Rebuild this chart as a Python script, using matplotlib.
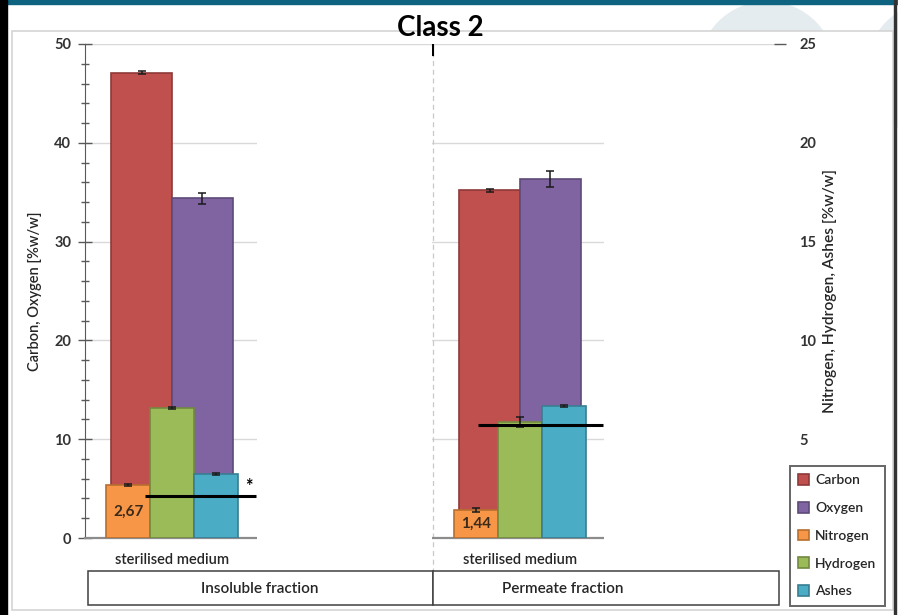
import matplotlib
matplotlib.use("Agg")
import matplotlib.pyplot as plt
from matplotlib.patches import Rectangle, Ellipse, Patch
from matplotlib.ticker import MultipleLocator
import numpy as np

plt.rcParams['font.family'] = ['Lato', 'DejaVu Sans']

# ---- data -------------------------------------------------------------
fractions = ["Insoluble fraction", "Permeate fraction"]
samples = ["sterilised medium", "sterilised medium"]

# left axis: Carbon, Oxygen [%w/w]
carbon = [47.1, 35.2]
carbon_err = [0.15, 0.15]
oxygen = [34.4, 36.3]
oxygen_err = [0.55, 0.8]

# right axis: Nitrogen, Hydrogen, Ashes [%w/w]
nitrogen = [2.67, 1.44]
nitrogen_err = [0.05, 0.1]
hydrogen = [6.58, 5.87]
hydrogen_err = [0.05, 0.25]
ashes = [3.24, 6.68]
ashes_err = [0.05, 0.05]
nitrogen_labels = ["2,67", "1,44"]

# reference levels (right axis) drawn as black lines
ref_levels = [2.13, 5.72]

series_names = ["Carbon", "Oxygen", "Nitrogen", "Hydrogen", "Ashes"]
fills = ["#C0504D", "#8064A2", "#F79646", "#9BBB59", "#4BACC6"]
edges = ["#8E3A38", "#5E4A78", "#B86E30", "#71893F", "#377E92"]

TEXT_W = "semibold"

# ---- figure -----------------------------------------------------------
W, H = 898, 615
fig = plt.figure(figsize=(W / 100, H / 100), dpi=100)
fig.patch.set_facecolor("white")


def fx(px):
    return px / W


def fy(py):
    return 1 - py / H


def frect(x0, y0, x1, y1, **kw):
    r = Rectangle((fx(x0), fy(y1)), fx(x1) - fx(x0), fy(y0) - fy(y1),
                  transform=fig.transFigure, **kw)
    fig.add_artist(r)
    return r


# slide decoration behind the chart
for cx in (767, 935):
    fig.add_artist(Ellipse((fx(cx), fy(70)), 2 * 68 / W, 2 * 68 / H,
                           transform=fig.transFigure, color="#E4ECEF",
                           zorder=-5))
frect(0, 0, W, 4, color="#0E6480", zorder=-4)
frect(12, 31, 893, 610, facecolor="white", edgecolor="#D4D4D4", lw=1.2,
      zorder=-3)
frect(0, 0, 4, H, color="black", zorder=-2)
frect(5.3, 0, 7, H, color="black", zorder=-2)
frect(894, 0, 896, H, color="#333333", zorder=-2)

# ---- axes -------------------------------------------------------------
ax = fig.add_axes([fx(85), fy(538), fx(780) - fx(85), fy(44) - fy(538)])
ax2 = ax.twinx()
for a in (ax, ax2):
    a.patch.set_visible(False)

x = np.arange(len(fractions))
w_big = 0.175
w_small = 0.126
ekw = dict(elinewidth=1.1, capthick=1.1, ecolor="#1A1A1A")

left_series = [(carbon, carbon_err, -w_big / 2), (oxygen, oxygen_err, w_big / 2)]
for i, (vals, err, off) in enumerate(left_series):
    ax.bar(x + off, vals, w_big, yerr=err, color=fills[i], edgecolor=edges[i],
           lw=1.2, capsize=3, error_kw=ekw, zorder=2)

right_series = [(nitrogen, nitrogen_err, -w_small), (hydrogen, hydrogen_err, 0.0),
                (ashes, ashes_err, w_small)]
nbars = None
for j, (vals, err, off) in enumerate(right_series):
    i = j + 2
    b = ax2.bar(x + off, vals, w_small, yerr=err, color=fills[i],
                edgecolor=edges[i], lw=1.2, capsize=3, error_kw=ekw, zorder=2)
    if j == 0:
        nbars = b

ax2.bar_label(nbars, labels=nitrogen_labels, label_type="center",
              fontsize=11, fontweight="bold", color="#3B2A1A")

# reference lines with marker
ref_start = [-0.078, -0.121]
ref_end = [0.241, 0.239]
ax2.hlines(ref_levels, x + np.array(ref_start), x + np.array(ref_end),
           color="black", lw=2.2, zorder=4)
ax2.text(x[0] + ref_end[0] - 0.02, ref_levels[0] + 0.05, "*", ha="center",
         va="bottom", fontsize=13, fontweight="bold", color="black")

# scales
ax.set_xlim(-0.25, 1.747)
ax.set_ylim(0, 50)
ax2.set_ylim(0, 25)

ax.yaxis.set_major_locator(MultipleLocator(10))
ax.yaxis.set_minor_locator(MultipleLocator(2))

ax.yaxis.grid(True, color="#D9D9D9", lw=1)
ax.set_axisbelow(True)

for s in ("top", "right"):
    ax.spines[s].set_visible(False)
for s in ("top", "left", "bottom", "right"):
    ax2.spines[s].set_visible(False)
ax.spines["left"].set_color("#595959")
ax.spines["bottom"].set_color("#8C8C8C")
ax.spines["bottom"].set_linewidth(1.6)

ax.tick_params(axis="y", which="major", direction="inout", length=10,
               width=1, color="#595959", labelsize=10.5, labelcolor="#333333",
               pad=5)
ax.tick_params(axis="y", which="minor", direction="inout", length=6,
               width=1, color="#595959")
ax2.tick_params(axis="y", direction="inout", length=8, width=1,
                color="#595959", labelsize=10.5, labelcolor="#333333", pad=10)
ax2.set_yticks([5, 10, 15, 20, 25])
for lab in ax.get_yticklabels() + ax2.get_yticklabels():
    lab.set_fontweight("bold")

ax.set_xticks(x)
ax.set_xticklabels(samples, fontsize=10.5, color="#262626",
                   fontweight=TEXT_W)
ax.tick_params(axis="x", length=0, pad=11)

ax.set_ylabel("Carbon, Oxygen [%w/w]", fontsize=10.5, color="#262626",
              fontweight=TEXT_W, labelpad=9)
ax2.set_ylabel("Nitrogen, Hydrogen, Ashes [%w/w]", fontsize=11.2,
               color="#262626", fontweight=TEXT_W, labelpad=5)

# group separator
ax.axvline(0.75, ymin=-0.07, ymax=1.0, color="#C8C8C8", lw=0.9,
           ls=(0, (4, 3)), zorder=1, clip_on=False)
ax.axvline(0.75, ymin=0.978, ymax=1.0, color="black", lw=1.5)

# blank areas of the slide over the plot
frect(257, 47, 431.5, 569, facecolor="white", edgecolor="none", zorder=3)
frect(603.5, 47, 788, 566, facecolor="white", edgecolor="none", zorder=3)

# category boxes
frect(88, 571, 433, 605, facecolor="white", edgecolor="#404040", lw=1.1,
      zorder=4)
frect(433, 571, 779, 605, facecolor="white", edgecolor="#404040", lw=1.1,
      zorder=4)
fig.text(fx(260), fy(589), fractions[0], ha="center", va="center",
         fontsize=11, color="#262626", fontweight=TEXT_W, zorder=5)
fig.text(fx(563), fy(589), fractions[1], ha="center", va="center",
         fontsize=11, color="#262626", fontweight=TEXT_W, zorder=5)

# title
fig.text(fx(440), fy(28), "Class 2", ha="center", va="center",
         fontsize=20, fontweight="bold", color="black", zorder=6)

# legend
handles = [Patch(facecolor=f, edgecolor=e, lw=1.2) for f, e in zip(fills, edges)]
leg = fig.legend(handles, series_names, loc="upper left",
                 bbox_to_anchor=(fx(790), fy(466)), frameon=True,
                 fancybox=False, prop=dict(size=10, weight=TEXT_W),
                 handlelength=0.8, handleheight=0.8, handletextpad=0.4,
                 labelspacing=1.12, borderpad=0.6, borderaxespad=0)
leg.get_frame().set_edgecolor("#404040")
leg.get_frame().set_linewidth(1.4)
leg.set_zorder(7)
for t in leg.get_texts():
    t.set_color("#262626")

fig.savefig("out.png", dpi=100)
